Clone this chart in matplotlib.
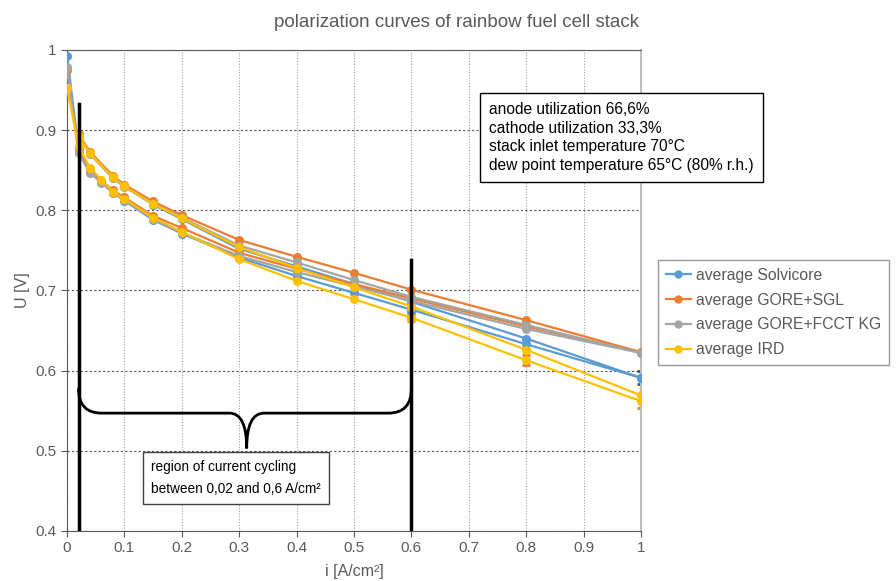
import numpy as np
import matplotlib
matplotlib.use("Agg")
import matplotlib.pyplot as plt
from matplotlib.path import Path
from matplotlib.patches import PathPatch

# current density [A/cm²], forward sweep (0 -> 1) and return sweep (1 -> 0.02)
i_up = [0, 0.02, 0.04, 0.06, 0.08, 0.1, 0.15, 0.2, 0.3, 0.4, 0.5, 0.6, 0.8, 1.0]
i_down = [1.0, 0.8, 0.6, 0.5, 0.4, 0.3, 0.2, 0.15, 0.1, 0.08, 0.04, 0.02]

names = ["average Solvicore", "average GORE+SGL", "average GORE+FCCT KG", "average IRD"]
colors = ["#5B9BD5", "#ED7D31", "#A5A5A5", "#FFC000"]
err_colors = ["#44546A", "#C55A11", "#7F7F7F", "#ED7D31"]

u_up = [
    [0.993, 0.876, 0.849, 0.835, 0.822, 0.812, 0.788, 0.771, 0.741, 0.718, 0.697, 0.676, 0.633, 0.591],
    [0.975, 0.878, 0.850, 0.837, 0.825, 0.816, 0.793, 0.778, 0.747, 0.727, 0.708, 0.690, 0.655, 0.623],
    [0.979, 0.871, 0.847, 0.834, 0.822, 0.813, 0.789, 0.772, 0.743, 0.723, 0.705, 0.687, 0.652, 0.622],
    [0.953, 0.880, 0.853, 0.838, 0.823, 0.814, 0.791, 0.773, 0.739, 0.712, 0.689, 0.666, 0.613, 0.562],
]
u_down = [
    [0.591, 0.640, 0.686, 0.708, 0.730, 0.752, 0.789, 0.807, 0.830, 0.841, 0.871, 0.894],
    [0.623, 0.663, 0.701, 0.722, 0.742, 0.763, 0.794, 0.811, 0.832, 0.843, 0.873, 0.895],
    [0.622, 0.657, 0.692, 0.713, 0.735, 0.756, 0.791, 0.808, 0.829, 0.840, 0.870, 0.892],
    [0.569, 0.626, 0.680, 0.704, 0.728, 0.754, 0.790, 0.808, 0.830, 0.841, 0.871, 0.893],
]

# standard deviation shown at a few points of the forward sweep
err_i = [0.6, 0.8, 1.0]
err_u = [0.004, 0.006, 0.008]

info_text = ("anode utilization 66,6%\ncathode utilization 33,3%\n"
             "stack inlet temperature 70°C\ndew point temperature 65°C (80% r.h.)")
region_text = "region of current cycling\nbetween 0,02 and 0,6 A/cm²"

plt.rcParams["font.family"] = ["Liberation Sans", "DejaVu Sans"]
txt = "#595959"

fig = plt.figure(figsize=(8.96, 5.81), dpi=100)
ax = fig.add_axes([0.0748, 0.0861, 0.6406, 0.8279])

for k in range(len(names)):
    ax.plot(i_up, u_up[k], "-o", color=colors[k], lw=1.6, ms=5.5, label=names[k], zorder=3 + k)
    ax.plot(i_down, u_down[k], "-o", color=colors[k], lw=1.6, ms=5.5, zorder=3 + k)
    if k in (0, 3):
        ys = [u_up[k][i_up.index(x)] for x in err_i]
        ax.errorbar(err_i, ys, yerr=err_u, fmt="none", ecolor=err_colors[k],
                    elinewidth=2.5, capsize=3, capthick=2, zorder=2)

ax.set_xlim(0, 1)
ax.set_ylim(0.4, 1)
ax.set_xticks(np.arange(0, 1.01, 0.1))
ax.set_yticks(np.arange(0.4, 1.01, 0.1))
ax.set_xticklabels(["0"] + [f"{v:.1f}" for v in np.arange(0.1, 0.95, 0.1)] + ["1"])
ax.set_yticklabels([f"{v:.1f}" for v in np.arange(0.4, 0.95, 0.1)] + ["1"])
ax.tick_params(colors=txt, labelsize=11, length=4, width=0.8)
ax.xaxis.grid(True, ls=(0, (1, 1.5)), color="#A0A0A0", lw=0.8)
ax.yaxis.grid(True, ls=(0, (2, 2)), color="#555555", lw=0.8)
ax.set_axisbelow(True)
for s in ["left", "bottom", "top"]:
    ax.spines[s].set_color("#595959")
ax.spines["right"].set_color("#BFBFBF")
ax.spines["right"].set_linewidth(1.5)

ax.set_xlabel("i [A/cm²]", color=txt, fontsize=11.5, labelpad=6)
ax.set_ylabel("U [V]", color=txt, fontsize=11.5, labelpad=4)
fig.text(0.51, 0.962, "polarization curves of rainbow fuel cell stack",
         ha="center", va="center", color=txt, fontsize=13.5)

# cycling region markers
ax.plot([0.02, 0.02], [0.4, 0.933], color="black", lw=2.5, zorder=10)
ax.plot([0.6, 0.6], [0.4, 0.738], color="black", lw=2.5, zorder=10)

x0, x1, xm = 0.02, 0.6, 0.313
yt, ym, yb = 0.578, 0.547, 0.503
verts = [(x0, yt), (x0, ym), (x0 + 0.04, ym), (xm - 0.03, ym), (xm, ym), (xm, yb),
         (xm, ym), (xm + 0.03, ym), (x1 - 0.04, ym), (x1, ym), (x1, yt)]
codes = [Path.MOVETO, Path.CURVE3, Path.CURVE3, Path.LINETO, Path.CURVE3, Path.CURVE3,
         Path.CURVE3, Path.CURVE3, Path.LINETO, Path.CURVE3, Path.CURVE3]
ax.add_patch(PathPatch(Path(verts, codes), fill=False, lw=2, ec="black", zorder=10))

ax.text(0.146, 0.466, region_text, fontsize=9.8, va="center", ha="left",
        linespacing=1.7, zorder=11,
        bbox=dict(boxstyle="square,pad=0.6", fc="white", ec="#404040", lw=1))
ax.text(0.735, 0.891, info_text, fontsize=11.2, va="center", ha="left",
        linespacing=1.3, zorder=11,
        bbox=dict(boxstyle="square,pad=0.6", fc="white", ec="black", lw=1))

leg = fig.legend(loc="upper left", bbox_to_anchor=(658 / 896, 1 - 260 / 581),
                 frameon=True, fontsize=11.3, labelcolor=txt, handlelength=1.6,
                 handletextpad=0.35, borderpad=0.5, borderaxespad=0,
                 labelspacing=0.62, fancybox=False)
leg.get_frame().set_edgecolor("#808080")
for h in leg.legend_handles:
    h.set_markersize(5)

fig.savefig("out.png", dpi=100)
